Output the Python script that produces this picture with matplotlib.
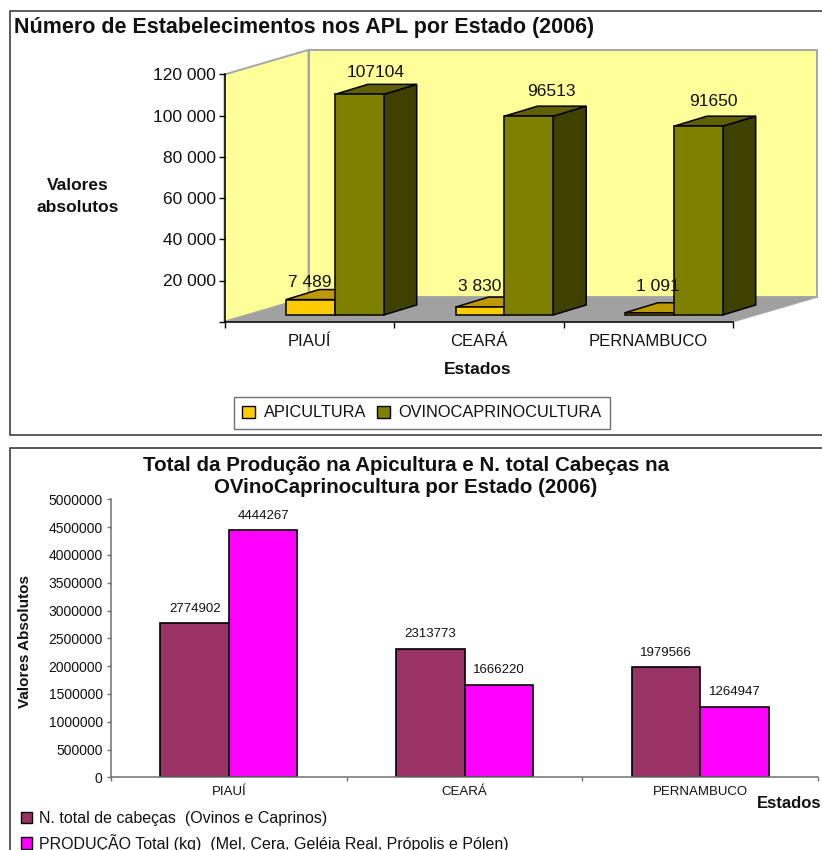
import matplotlib
matplotlib.use('Agg')
from matplotlib import pyplot as plt
from matplotlib.patches import Polygon, Patch, Rectangle

plt.rcParams['font.family'] = ['Liberation Sans', 'DejaVu Sans']

# Data
estados = ['PIAUÍ', 'CEARÁ', 'PERNAMBUCO']
apicultura = [7489, 3830, 1091]
ovinocaprino = [107104, 96513, 91650]
apiculturaLabels = ['7 489', '3 830', '1 091']
ticksTop = [0, 20000, 40000, 60000, 80000, 100000, 120000]
tickLabelsTop = ['', '20 000', '40 000', '60 000', '80 000', '100 000', '120 000']

cabecas = [2774902, 2313773, 1979566]
producao = [4444267, 1666220, 1264947]
ticksBottom = [0, 500000, 1000000, 1500000, 2000000, 2500000, 3000000, 3500000, 4000000, 4500000, 5000000]

W, H = 822, 850
BLACK = '#111111'


# Pixel box of the reference -> axes position
def addAxes(fig, left, right, top, bottom):
    return fig.add_axes([left / W, 1 - bottom / H, (right - left) / W, (bottom - top) / H])


def figText(fig, x, y, s, **kw):
    kw.setdefault('ha', 'center')
    kw.setdefault('va', 'center')
    kw.setdefault('color', BLACK)
    fig.text(x / W, 1 - y / H, s, **kw)


def drawBox(ax, x0, width, value, base, depthX, depthY, front, top, side):
    x1 = x0 + width
    y0 = base
    y1 = base + value
    ax.add_patch(Polygon([(x1, y0), (x1 + depthX, y0 + depthY), (x1 + depthX, y1 + depthY), (x1, y1)],
                         facecolor=side, edgecolor='black', lw=1.1, clip_on=False, zorder=3))
    ax.add_patch(Polygon([(x0, y1), (x0 + depthX, y1 + depthY), (x1 + depthX, y1 + depthY), (x1, y1)],
                         facecolor=top, edgecolor='black', lw=1.1, clip_on=False, zorder=3))
    ax.add_patch(Rectangle((x0, y0), width, value, facecolor=front, edgecolor='black', lw=1.1,
                           clip_on=False, zorder=3))


fig = plt.figure(figsize=(W / 100, H / 100), dpi=100)

# Outer frames, they run off the right side of the picture
fig.add_artist(Rectangle((10 / W, 1 - 435 / H), 830 / W, 424 / H, transform=fig.transFigure,
                         facecolor='white', edgecolor='#404040', lw=1.2, zorder=-5))
fig.add_artist(Rectangle((10 / W, 1 - 870 / H), 830 / W, 422 / H, transform=fig.transFigure,
                         facecolor='white', edgecolor='#404040', lw=1.2, zorder=-5))

# ---- Top chart (fake 3D) ----
ax1 = addAxes(fig, 224.5, 733, 74.5, 321.7)
ax1.set_xlim(0, 3)
ax1.set_ylim(0, 120000)
ax1.patch.set_alpha(0)

wallX = 0.4956
wallY = 11950
barW = 0.288
barDepthX = 0.195
barDepthY = 4860
barOffY = 3254

ax1.add_patch(Polygon([(wallX, wallY), (3 + wallX, wallY), (3 + wallX, 120000 + wallY), (wallX, 120000 + wallY)],
                      facecolor='#FFFF99', edgecolor='#A6A6A6', lw=1.4, clip_on=False, zorder=1))
ax1.add_patch(Polygon([(0, 0), (wallX, wallY), (wallX, 120000 + wallY), (0, 120000)],
                      facecolor='#FFFF99', edgecolor='#A6A6A6', lw=1.4, clip_on=False, zorder=1))
ax1.add_patch(Polygon([(0, 0), (3, 0), (3 + wallX, wallY), (wallX, wallY)],
                      facecolor='#A0A0A0', edgecolor='#A6A6A6', lw=1, clip_on=False, zorder=1.5))

# label offsets in px
goldOffsets = [(-1, 17), (0, 21), (8, 26)]
oliveOffsets = [(41, 22), (47, 25), (40, 25)]
pxToPt = 0.72
for i in range(3):
    x0 = i + 0.363
    drawBox(ax1, x0, barW, apicultura[i], barOffY, barDepthX, barDepthY, '#FFCC00', '#BF9900', '#806600')
    drawBox(ax1, x0 + barW, barW, ovinocaprino[i], barOffY, barDepthX, barDepthY, '#808000', '#606000', '#404000')
    ax1.annotate(apiculturaLabels[i], (x0 + barW / 2, barOffY + apicultura[i]),
                 xytext=(goldOffsets[i][0] * pxToPt, goldOffsets[i][1] * pxToPt), textcoords='offset points',
                 ha='center', va='center', fontsize=12.5, color=BLACK, zorder=5, annotation_clip=False)
    ax1.annotate(str(ovinocaprino[i]), (x0 + barW, barOffY + ovinocaprino[i]),
                 xytext=(oliveOffsets[i][0] * pxToPt, oliveOffsets[i][1] * pxToPt), textcoords='offset points',
                 ha='center', va='center', fontsize=12.5, color=BLACK, zorder=5, annotation_clip=False)

for s in ['top', 'right']:
    ax1.spines[s].set_visible(False)
for s in ['left', 'bottom']:
    ax1.spines[s].set_color('black')
    ax1.spines[s].set_linewidth(1.1)
    ax1.spines[s].set_zorder(2)
ax1.set_yticks(ticksTop)
ax1.set_yticklabels(tickLabelsTop, fontsize=12.5, color=BLACK)
ax1.set_xticks([0, 1, 2, 3])
ax1.set_xticklabels([])
ax1.tick_params(axis='both', length=4, width=1, pad=2)
ax1.set_xticks([0.5, 1.5, 2.5], minor=True)
ax1.set_xticklabels(estados, minor=True, fontsize=12, color=BLACK)
ax1.tick_params(axis='x', which='minor', length=0, pad=9)

figText(fig, 14, 28, 'Número de Estabelecimentos nos APL por Estado (2006)', ha='left', fontsize=15.5, fontweight='bold')
figText(fig, 78, 186, 'Valores', fontsize=12.5, fontweight='bold')
figText(fig, 78, 207, 'absolutos', fontsize=12.5, fontweight='bold')
figText(fig, 478, 369, 'Estados', fontsize=12.5, fontweight='bold')

fig.legend(handles=[Patch(facecolor='#FFCC00', edgecolor='black', label='APICULTURA'),
                    Patch(facecolor='#808000', edgecolor='black', label='OVINOCAPRINOCULTURA')],
           loc='center', bbox_to_anchor=(422 / W, 1 - 413 / H), ncol=2, fontsize=11.8, fancybox=False,
           framealpha=1, edgecolor='#707070', handlelength=0.8, handleheight=0.8, handletextpad=0.5,
           columnspacing=0.7, borderpad=0.5, labelcolor=BLACK)

# ---- Bottom chart ----
ax2 = addAxes(fig, 111, 818, 499.3, 777.3)
ax2.set_xlim(0, 3)
ax2.set_ylim(0, 5000000)
ax2.patch.set_alpha(0)
barWidth = 0.29
positions = [0.5, 1.5, 2.5]
bars1 = ax2.bar([p - barWidth / 2 for p in positions], cabecas, barWidth, color='#993366', edgecolor='black', lw=1.2)
bars2 = ax2.bar([p + barWidth / 2 for p in positions], producao, barWidth, color='#FF00FF', edgecolor='black', lw=1.2)
for bars in (bars1, bars2):
    for b in bars:
        ax2.annotate(str(int(b.get_height())), (b.get_x() + b.get_width() / 2, b.get_height()),
                     xytext=(0, 14.5 * pxToPt), textcoords='offset points',
                     ha='center', va='center', fontsize=9.5, color=BLACK)

for s in ['top', 'right']:
    ax2.spines[s].set_visible(False)
for s in ['left', 'bottom']:
    ax2.spines[s].set_color('#707070')
    ax2.spines[s].set_linewidth(1.1)
ax2.set_yticks(ticksBottom)
ax2.set_yticklabels([str(t) for t in ticksBottom], fontsize=10, color=BLACK)
ax2.set_xticks([0, 1, 2, 3])
ax2.set_xticklabels([])
ax2.tick_params(axis='both', length=3, width=1, color='#707070', pad=3)
ax2.set_xticks(positions, minor=True)
ax2.set_xticklabels(estados, minor=True, fontsize=9.5, color=BLACK)
ax2.tick_params(axis='x', which='minor', length=0, pad=6)

figText(fig, 406, 465, 'Total da Produção na Apicultura e N. total Cabeças na', fontsize=14.8, fontweight='bold')
figText(fig, 406, 487, 'OVinoCaprinocultura por Estado (2006)', fontsize=14.8, fontweight='bold')
figText(fig, 25, 641, 'Valores Absolutos', rotation=90, fontsize=11, fontweight='bold')
figText(fig, 757, 804, 'Estados', ha='left', fontsize=12, fontweight='bold')

fig.legend(handles=[Patch(facecolor='#993366', edgecolor='black', label='N. total de cabeças  (Ovinos e Caprinos)'),
                    Patch(facecolor='#FF00FF', edgecolor='black', label='PRODUÇÃO Total (kg)  (Mel, Cera, Geléia Real, Própolis e Pólen)')],
           loc='upper left', bbox_to_anchor=(18 / W, 1 - 807.5 / H), fontsize=11.5, frameon=False,
           handlelength=0.7, handleheight=0.7, handletextpad=0.4, labelspacing=0.5, borderpad=0.2,
           borderaxespad=0, labelcolor=BLACK)

fig.savefig('out.png', dpi=100)
